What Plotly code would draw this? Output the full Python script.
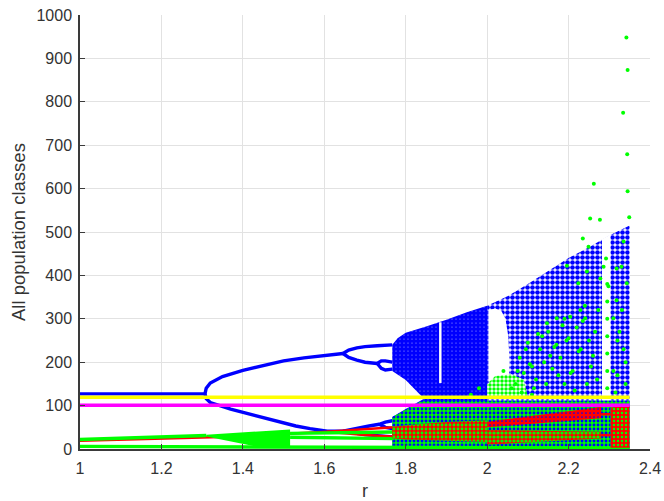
import plotly.graph_objects as go

# ---------------- data ----------------
# period-1 / period-2 branches of the blue class
blue_fix_r = [1.0, 1.307]
blue_fix_y = [127, 127]
blue_up1_r = [1.307, 1.31, 1.32, 1.35, 1.40, 1.45, 1.50, 1.55, 1.60, 1.646]
blue_up1_y = [127, 140, 152, 167, 181, 193, 203, 210, 216, 220]
blue_lo1_r = [1.307, 1.31, 1.32, 1.35, 1.37, 1.41, 1.45, 1.49, 1.53, 1.565, 1.607, 1.646]
blue_lo1_y = [127, 116, 107, 97, 92, 82, 72, 62, 53, 47, 41, 41]
# period-4 branches
blue_eyeA_top_r = [1.646, 1.66, 1.68, 1.70, 1.73, 1.767]
blue_eyeA_top_y = [220, 228, 233, 236, 238, 240]
blue_eyeA_bot_r = [1.646, 1.66, 1.68, 1.70, 1.73]
blue_eyeA_bot_y = [220, 211, 205, 200, 197]
blue_eyeB_top_r = [1.73, 1.74, 1.75, 1.767]
blue_eyeB_top_y = [197, 203, 203, 200]
blue_eyeB_bot_r = [1.73, 1.74, 1.75, 1.767]
blue_eyeB_bot_y = [197, 186, 182, 184]
blue_rise_r = [1.646, 1.68, 1.71, 1.735, 1.75, 1.767]
blue_rise_y = [41, 48, 53, 57, 62, 65]
blue_rise2_r = [1.735, 1.75, 1.767]
blue_rise2_y = [57, 50, 47]
blue_fall_r = [1.646, 1.70, 1.767]
blue_fall_y = [41, 33, 28]

# chaotic blue cloud envelope (dense part, with the white notch on its left)
blue_cloud1_r = [1.767, 1.78, 1.80, 1.85, 1.90, 1.95, 2.00, 2.00, 1.767, 1.767, 1.80, 1.845, 1.80, 1.767]
blue_cloud1_y = [240, 255, 268, 282, 298, 315, 330, 3, 3, 74, 92, 116, 159, 180]
# chaotic blue cloud (sparser right part)
blue_cloud2_r = [2.00, 2.05, 2.10, 2.15, 2.20, 2.25, 2.30, 2.35, 2.35, 2.00]
blue_cloud2_y = [330, 352, 380, 410, 440, 465, 492, 515, 3, 3]
# periodic windows (empty regions inside the cloud)
window1_r = [2.003, 2.02, 2.035, 2.045, 2.052, 2.055, 2.053, 2.003]
window1_y = [320, 324, 318, 300, 260, 200, 160, 155]
window2_r = [2.282, 2.303, 2.303, 2.282]
window2_y = [484, 494, 40, 40]
window3_r = [1.882, 1.888, 1.888, 1.882]
window3_y = [292, 292, 152, 152]

# green class
green_top_r = [1.0, 1.31]
green_top_y = [22, 31]
green_wedge_r = [1.31, 1.516, 1.516, 1.44, 1.31]
green_wedge_y = [33, 45, 3, 4, 29]
green_mid_r = [1.516, 1.65, 1.77]
green_mid_y = [36, 37, 39]
green_mid2_r = [1.516, 1.65, 1.77]
green_mid2_y = [27, 25, 24]
green_bot_r = [1.0, 1.77, 2.35]
green_bot_y = [6, 4, 2]
green_band_r = [1.767, 1.80, 1.84, 1.90, 2.35, 2.35, 1.767]
green_band_y = [74, 90, 111, 112, 112, 0, 0]
green_cluster_r = [2.00, 2.00, 2.02, 2.06, 2.09, 2.10, 2.06]
green_cluster_y = [120, 150, 168, 172, 160, 120, 120]
green_dots_r = [2.342, 2.345, 2.334, 2.344, 2.262, 2.345, 2.253, 2.277, 2.349, 2.235,
                2.249, 2.292, 2.286, 2.196, 2.278, 2.335, 2.318, 2.224, 2.245, 2.298,
                2.273, 2.229, 2.204, 2.171, 2.241, 2.318, 2.331, 2.310, 2.343, 2.147,
                2.295, 2.295, 2.295, 2.295, 2.295, 2.295, 2.295, 2.295,
                2.07, 2.08, 2.09, 2.10, 2.11, 2.12, 2.13, 2.14, 2.15, 2.16,
                2.17, 2.18, 2.19, 2.20, 2.21, 2.22, 2.23, 2.24, 2.25, 2.26,
                2.075, 2.095, 2.115, 2.135, 2.155, 2.175, 2.195, 2.215, 2.235, 2.255,
                2.085, 2.105, 2.125, 2.145, 2.165, 2.185, 2.205, 2.225, 2.245, 2.265,
                1.96, 1.98, 2.04, 2.06, 2.11, 2.19, 2.27, 2.32, 2.34, 2.31,
                2.315, 2.325, 2.335, 2.34, 2.32, 2.33]
green_dots_y = [948, 873, 775, 679, 611, 594, 531, 528, 534, 485,
                466, 439, 420, 422, 393, 478, 416, 382, 409, 375,
                320, 320, 305, 301, 301, 343, 320, 301, 382, 290,
                100, 140, 180, 220, 260, 300, 340, 380,
                150, 210, 175, 245, 190, 160, 230, 200, 270, 185,
                240, 210, 300, 255, 180, 280, 230, 330, 250, 215,
                180, 230, 140, 260, 215, 170, 250, 135, 295, 190,
                130, 195, 265, 150, 235, 285, 175, 225, 150, 270,
                125, 140, 180, 140, 125, 150, 160, 250, 200, 180,
                130, 270, 230, 150, 170, 420]

# red class
red_line_r = [1.0, 1.368, 1.607]
red_line_y = [19, 28, 40]
red_up_r = [1.607, 1.70, 1.77]
red_up_y = [40, 45, 50]
red_lo_r = [1.607, 1.70, 1.77]
red_lo_y = [40, 32, 28]
red_band1_r = [1.767, 1.80, 1.90, 2.00, 2.00, 1.90, 1.80, 1.767]
red_band1_y = [51, 55, 62, 66, 16, 19, 22, 25]
red_wedge_r = [2.00, 2.28, 2.28, 2.00]
red_wedge_y = [63, 97, 71, 50]
red_lowband_r = [2.00, 2.28, 2.28, 2.00]
red_lowband_y = [44, 40, 24, 10]
red_right_r = [2.303, 2.35, 2.35, 2.303]
red_right_y = [95, 100, 3, 3]
red_gap1_r = [2.28, 2.303]
red_gap1_y = [80, 80]
red_gap2_r = [2.28, 2.303]
red_gap2_y = [32, 32]

# constant classes
yellow_r = [1.0, 2.35]
yellow_y = [119, 119]
magenta_r = [1.0, 2.35]
magenta_y = [101, 101]

x_ticks = [1, 1.2, 1.4, 1.6, 1.8, 2.0, 2.2, 2.4]
x_tick_text = ["1", "1.2", "1.4", "1.6", "1.8", "2", "2.2", "2.4"]
y_ticks = [0, 100, 200, 300, 400, 500, 600, 700, 800, 900, 1000]

# ---------------- figure ----------------
BLUE = "rgb(0,0,255)"
GREEN = "rgb(0,255,0)"
RED = "rgb(255,0,0)"
FONT = "Liberation Sans, Arial, sans-serif"

fig = go.Figure()


def line(r, y, color, w=3.4):
    fig.add_trace(go.Scatter(x=r, y=y, mode="lines", line=dict(color=color, width=w),
                             hoverinfo="skip"))


def area(r, y, bg, fg=None, solidity=0.5, size=4):
    kw = {}
    if fg is not None:
        kw["fillpattern"] = dict(shape=".", bgcolor=bg, fgcolor=fg, size=size,
                                 solidity=solidity, fillmode="replace")
    fig.add_trace(go.Scatter(x=r, y=y, mode="lines", fill="toself", fillcolor=bg,
                             line=dict(width=0, color=bg), hoverinfo="skip", **kw))


# blue
area(blue_cloud1_r, blue_cloud1_y, "white", BLUE, 0.88, 4)
area(blue_cloud2_r, blue_cloud2_y, "white", BLUE, 0.68, 5)
area(window1_r, window1_y, "white")
area(window2_r, window2_y, "white")
area(window3_r, window3_y, "white")
for rr, yy in [(blue_fix_r, blue_fix_y), (blue_up1_r, blue_up1_y), (blue_lo1_r, blue_lo1_y),
               (blue_eyeA_top_r, blue_eyeA_top_y), (blue_eyeA_bot_r, blue_eyeA_bot_y),
               (blue_eyeB_top_r, blue_eyeB_top_y), (blue_eyeB_bot_r, blue_eyeB_bot_y),
               (blue_rise_r, blue_rise_y), (blue_rise2_r, blue_rise2_y),
               (blue_fall_r, blue_fall_y)]:
    line(rr, yy, BLUE)

# red branches before the chaotic regime (mostly hidden under green)
for rr, yy in [(red_line_r, red_line_y), (red_up_r, red_up_y), (red_lo_r, red_lo_y)]:
    line(rr, yy, RED, 2.5)

# green
area(green_band_r, green_band_y, GREEN, BLUE, 0.4, 4)
area(green_cluster_r, green_cluster_y, "white", GREEN, 0.6, 4)
area(green_wedge_r, green_wedge_y, GREEN)
for rr, yy in [(green_top_r, green_top_y), (green_mid_r, green_mid_y),
               (green_mid2_r, green_mid2_y), (green_bot_r, green_bot_y)]:
    line(rr, yy, GREEN)
fig.add_trace(go.Scatter(x=green_dots_r, y=green_dots_y, mode="markers",
                         marker=dict(color=GREEN, size=4), hoverinfo="skip"))

# red chaotic bands
area(red_band1_r, red_band1_y, RED, GREEN, 0.4, 4)
area(red_wedge_r, red_wedge_y, RED, BLUE, 0.15, 4)
area(red_lowband_r, red_lowband_y, RED, GREEN, 0.5, 4)
area(red_right_r, red_right_y, RED, GREEN, 0.3, 4)
for rr, yy in [(red_gap1_r, red_gap1_y), (red_gap2_r, red_gap2_y)]:
    line(rr, yy, RED, 2.5)

# constant classes on top
line(yellow_r, yellow_y, "rgb(255,255,0)", 3.5)
line(magenta_r, magenta_y, "rgb(255,0,255)", 3.5)

axis_common = dict(showgrid=True, gridcolor="#e2e2e2", gridwidth=1, zeroline=False,
                   showline=True, linecolor="#3a3a3a", linewidth=1.5, mirror=False,
                   ticks="inside", ticklen=5, tickcolor="#3a3a3a", automargin=False,
                   ticklabeloverflow="allow",
                   tickfont=dict(family=FONT, size=16, color="#333333"))

fig.update_layout(
    width=664, height=501,
    margin=dict(l=80, r=14, t=15, b=52),
    plot_bgcolor="white", paper_bgcolor="white",
    showlegend=False,
    font=dict(family=FONT, color="#333333"),
    xaxis=dict(range=[1, 2.4], tickvals=x_ticks, ticktext=x_tick_text,
               ticklabelstandoff=4, **axis_common),
    yaxis=dict(range=[0, 1000], tickvals=y_ticks, ticklabelstandoff=3, **axis_common),
    annotations=[
        dict(text="All population classes", x=0, y=0.5, xref="paper", yref="paper",
             xanchor="center", yanchor="middle", xshift=-62, textangle=-90,
             showarrow=False, font=dict(family=FONT, size=18.5, color="#333333")),
        dict(text="r", x=0.5, y=0, xref="paper", yref="paper",
             xanchor="center", yanchor="middle", yshift=-42,
             showarrow=False, font=dict(family=FONT, size=18, color="#333333")),
    ],
)

# remove the default page margin so the figure fills the window exactly
fig.write_html("out.html", config={"displayModeBar": False},
               post_script="document.body.style.margin='0';document.body.style.overflow='hidden';")
